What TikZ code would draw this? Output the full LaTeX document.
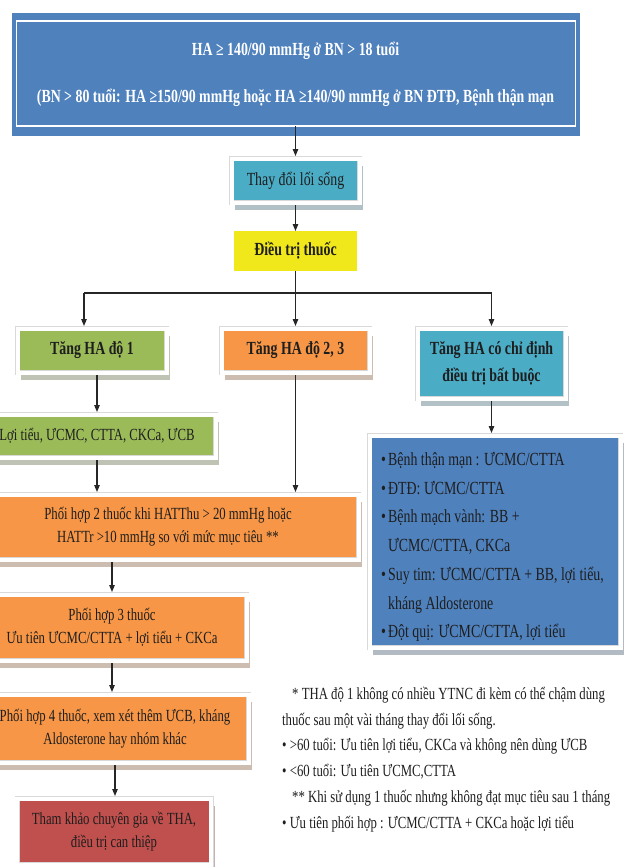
\documentclass[tikz,border=0pt]{standalone}
\usepackage{fontspec}
\setmainfont[FakeStretch=0.75]{Liberation Serif}
\usetikzlibrary{arrows.meta,shadows}

\definecolor{hdrblue}{HTML}{4F81BD}
\definecolor{tealfill}{HTML}{4BACC6}
\definecolor{yellowfill}{HTML}{F0E81A}
\definecolor{greenfill}{HTML}{9BBB59}
\definecolor{orangefill}{HTML}{F79646}
\definecolor{redfill}{HTML}{C0504D}
\definecolor{ink}{HTML}{1E1E1E}

% bullet and hanging indent for the list in the blue box
\newcommand\itembul{\makebox[7pt][l]{•}}
\newcommand\itemind{\hspace*{7pt}}

\tikzset{
  card/.style={fill=#1, draw=black!15, double=white, double distance=4pt,
    line width=0.5pt, outer sep=2.5pt, inner sep=0pt, align=center, text=ink,
    drop shadow={shadow xshift=3.5pt, shadow yshift=-7pt,
      fill=#1!45!black!35, opacity=1}},
  plain/.style={fill=#1, draw=none, outer sep=0pt, inner sep=0pt,
    align=center, text=ink},
  headfont/.style={font=\bfseries\fontsize{18.5}{27}\selectfont},
  bodyfont/.style={font=\fontsize{17}{23}\selectfont},
  conn/.style={draw=black!85, line width=1.1pt},
  arr/.style={conn, -{Triangle[length=7pt,width=5.5pt]}},
  sz/.style 2 args={minimum width=#1pt, minimum height=#2pt},
}

\begin{document}
\begin{tikzpicture}[x=1pt,y=-1pt]
\fill[white] (0,0) rectangle (629,867);
\useasboundingbox (0,0) rectangle (629,867);

% title block
\node[plain=hdrblue, sz={568}{123}, text=white,
      font=\bfseries\fontsize{18.5}{22}\selectfont] (top) at (295.5,74.5)
  {HA ≥ 140/90 mmHg ở BN > 18 tuổi\\[25pt](BN > 80 tuổi: HA ≥150/90 mmHg hoặc HA ≥140/90 mmHg ở BN ĐTĐ, Bệnh thận mạn};
\draw[white, line width=1.8pt] ([shift={(5,8)}]top.north west) rectangle ([shift={(-4,-10)}]top.south east);

% central column
\node[card=tealfill, sz={128}{44}, font=\fontsize{18.5}{22}\selectfont] (thay) at (295.5,180.5) {Thay đổi lối sống};
\node[plain=yellowfill, sz={123}{40}, headfont] (dtt) at (295.5,251) {Điều trị thuốc};

% three grades
\node[card=greenfill, sz={149}{44}, headfont] (g1) at (92,350.5) {Tăng HA độ 1};
\node[card=orangefill, sz={148}{44}, headfont] (o1) at (295.5,350.5) {Tăng HA độ 2, 3};
\node[card=tealfill, sz={148}{70}, headfont] (t1) at (491.5,363.5) {Tăng HA có chỉ định\\điều trị bất buộc};

% left-hand treatment steps
\node[card=greenfill, sz={237}{43}, bodyfont] (g2) at (97,436) {Lợi tiểu, ƯCMC, CTTA, CKCa, ƯCB};
\node[card=orangefill, sz={381}{65}, bodyfont] (o2) at (168,527)
  {Phối hợp 2 thuốc khi HATThu > 20 mmHg hoặc\\HATTr >10 mmHg so với mức mục tiêu **};
\node[card=orangefill, sz={269}{66}, bodyfont] (o3) at (112,627.5)
  {Phối hợp 3 thuốc\\Ưu tiên ƯCMC/CTTA + lợi tiểu + CKCa};
\node[card=orangefill, sz={267}{68}, bodyfont] (o4) at (115,728.5)
  {Phối hợp 4 thuốc, xem xét thêm ƯCB, kháng\\Aldosterone hay nhóm khác};
\node[card=redfill, sz={194}{66}, bodyfont] (r1) at (114,831.5)
  {Tham khảo chuyên gia về THA,\\điều trị can thiệp};

% compelling indications
\node[card=hdrblue, sz={251}{212}] (b1) at (495,541.5) {};
\node[anchor=west, align=left, inner sep=0pt, text=ink,
      font=\fontsize{18.5}{28.7}\selectfont] (b1txt) at (381,547) {%
\itembul Bệnh thận mạn : ƯCMC/CTTA\\
\itembul ĐTĐ: ƯCMC/CTTA\\
\itembul Bệnh mạch vành: BB +\\
\itemind ƯCMC/CTTA, CKCa\\
\itembul Suy tim: ƯCMC/CTTA + BB, lợi tiểu,\\
\itemind kháng Aldosterone\\
\itembul Đột quị: ƯCMC/CTTA, lợi tiểu};

% footnotes
\node[anchor=west, align=left, inner sep=0pt, text=ink,
      font=\fontsize{17}{25.8}\selectfont] (notes) at (282,759.5) {%
\hspace*{10pt}* THA độ 1 không có nhiều YTNC đi kèm có thể chậm dùng\\
thuốc sau một vài tháng thay đổi lối sống.\\
• >60 tuổi: Ưu tiên lợi tiểu, CKCa và không nên dùng ƯCB\\
• <60 tuổi: Ưu tiên ƯCMC,CTTA\\
\hspace*{10pt}** Khi sử dụng 1 thuốc nhưng không đạt mục tiêu sau 1 tháng\\
• Ưu tiên phối hợp : ƯCMC/CTTA + CKCa hoặc lợi tiểu};

% connectors
\draw[arr] ([yshift=10pt]top.south) -- (thay.north);
\draw[arr] (thay.south) -- (dtt.north);
\coordinate (bl) at (84,293);
\coordinate (bm) at (dtt.south |- bl);
\coordinate (br) at (t1.north |- bl);
\draw[conn] (dtt.south) -- (bm);
\draw[conn] (bl) -- (br);
\draw[arr] (bl) -- (bl |- g1.north);
\draw[arr] (bm) -- (o1.north);
\draw[arr] (br) -- (t1.north);
\draw[arr] (g2.north |- g1.south) -- (g2.north);
\draw[arr] (g2.south) -- (g2.south |- o2.north);
\draw[arr] (o1.south) -- (o1.south |- o2.north);
\draw[arr] (o3.north |- o2.south) -- (o3.north);
\draw[arr] (o3.south) -- (o3.south |- o4.north);
\draw[arr] (o4.south) -- (o4.south |- r1.north);
\draw[arr] (t1.south) -- (t1.south |- b1.north);
\end{tikzpicture}
\end{document}
